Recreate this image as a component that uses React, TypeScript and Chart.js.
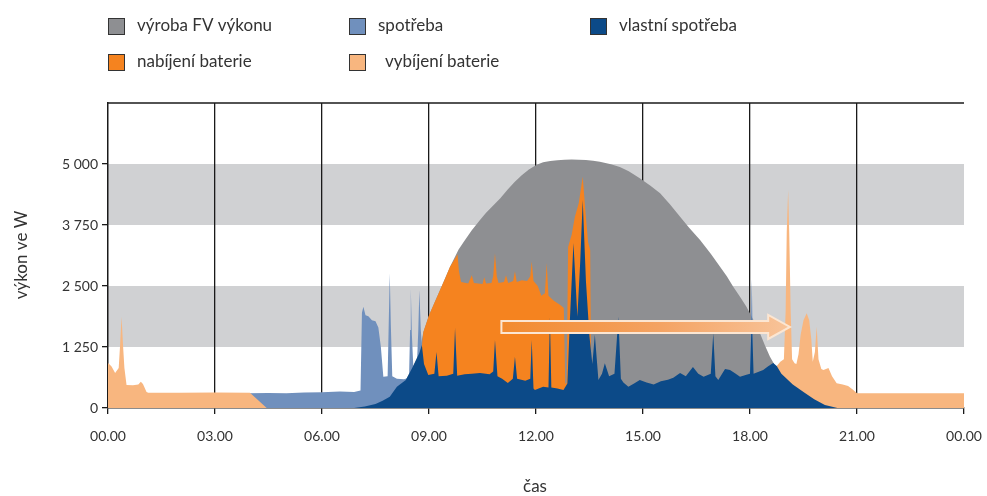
import React, { useEffect, useRef } from 'react';
import { Chart, registerables } from 'chart.js';

Chart.register(...registerables);

// ---------- data ----------
const xTickValues = [0, 3, 6, 9, 12, 15, 18, 21, 24];
const xTickLabels = ['00.00', '03.00', '06.00', '09.00', '12.00', '15.00', '18.00', '21.00', '00.00'];
const yTickValues = [0, 1250, 2500, 3750, 5000];
const yTickLabels = ['0', '1 250', '2 500', '3 750', '5 000'];
const yMax = 6250;
const bandRanges: [number, number][] = [[1250, 2500], [3750, 5000]];

const legendLabels = ['výroba FV výkonu', 'spotřeba', 'vlastní spotřeba', 'nabíjení baterie', 'vybíjení baterie'];
const xTitle = 'čas';
const yTitle = 'výkon ve W';

// [hour, watts]
const pvProduction: [number, number][] = [
  [6.9, 0], [7.5, 80], [7.9, 232], [8.1, 437], [8.35, 574], [8.55, 850], [8.73, 1127], [8.84, 1550],
  [9.0, 1900], [9.31, 2418], [9.59, 2895], [9.83, 3250], [10.0, 3430], [10.2, 3640], [10.43, 3852],
  [10.6, 4000], [10.8, 4150], [11.0, 4300], [11.2, 4470], [11.4, 4630], [11.6, 4770], [11.8, 4885],
  [12.02, 4985], [12.2, 5035], [12.4, 5060], [12.6, 5075], [12.8, 5085], [13.0, 5090], [13.2, 5088],
  [13.4, 5080], [13.6, 5065], [13.79, 5045], [14.1, 4995], [14.35, 4940], [14.6, 4850], [14.91, 4707],
  [15.2, 4560], [15.48, 4400], [15.76, 4170], [16.04, 3920], [16.3, 3690], [16.6, 3443], [16.9, 3160],
  [17.16, 2895], [17.35, 2700], [17.53, 2486], [17.72, 2280], [17.9, 2076], [18.1, 1800], [18.28, 1530],
  [18.42, 1280], [18.56, 1051], [18.7, 870], [18.84, 710], [19.0, 590], [19.2, 480], [19.5, 330],
  [19.8, 180], [20.1, 60], [20.45, 0],
];

const consumption: [number, number][] = [
  [3.9, 300], [4.5, 305], [5.0, 300], [5.5, 318], [6.0, 322], [6.5, 340], [6.9, 330], [7.08, 360],
  [7.12, 1950], [7.16, 2077], [7.22, 1900], [7.3, 1880], [7.4, 1800], [7.5, 1780], [7.58, 1650],
  [7.65, 1256], [7.72, 640], [7.84, 650], [7.87, 1700], [7.9, 2760], [7.93, 1700], [7.97, 650],
  [8.1, 600], [8.3, 590], [8.44, 620], [8.47, 1600], [8.49, 2452], [8.52, 1500], [8.56, 850],
  [8.66, 860], [8.7, 1600], [8.73, 2418], [8.77, 1600], [8.8, 1300], [8.95, 1000], [9.05, 0],
  [17.98, 0], [18.0, 700], [18.05, 2650], [18.09, 700], [18.12, 0],
];

const selfConsumption: [number, number][] = [
  [6.9, 0], [7.2, 30], [7.5, 80], [7.7, 150], [7.9, 232], [8.1, 437], [8.35, 574], [8.55, 850],
  [8.73, 1127], [8.8, 1291], [8.86, 900], [8.98, 676], [9.15, 700], [9.21, 1150], [9.27, 650],
  [9.5, 660], [9.68, 700], [9.73, 1639], [9.79, 660], [10.0, 690], [10.2, 700], [10.43, 717],
  [10.7, 690], [10.8, 750], [10.85, 1393], [10.92, 650], [11.05, 600], [11.21, 512], [11.35, 600],
  [11.41, 1051], [11.47, 600], [11.7, 560], [11.84, 600], [11.88, 1393], [11.93, 400], [11.97, 369],
  [12.2, 437], [12.35, 420], [12.39, 1872], [12.43, 420], [12.6, 400], [12.77, 369], [12.88, 500],
  [12.95, 1800], [13.05, 3380], [13.16, 1872], [13.24, 3000], [13.31, 4262], [13.4, 2600], [13.5, 1462],
  [13.58, 900], [13.65, 1500], [13.75, 574], [13.85, 700], [13.93, 915], [14.05, 650], [14.2, 700],
  [14.31, 1872], [14.38, 600], [14.45, 520], [14.59, 437], [14.75, 500], [14.91, 574], [15.1, 520],
  [15.3, 480], [15.5, 550], [15.7, 580], [15.85, 620], [16.04, 717], [16.2, 650], [16.4, 840],
  [16.55, 700], [16.7, 640], [16.9, 700], [16.97, 1530], [17.03, 650], [17.11, 574], [17.3, 800],
  [17.44, 779], [17.6, 700], [17.72, 640], [17.9, 680], [18.0, 700], [18.05, 1900], [18.1, 700],
  [18.37, 779], [18.5, 850], [18.65, 922], [18.75, 860], [18.88, 700], [19.2, 480], [19.5, 330],
  [19.8, 180], [20.1, 60], [20.45, 0],
];

const batteryCharging: [number, number][] = [
  [8.8, 1250], [8.84, 1550], [9.0, 1900], [9.15, 2150], [9.31, 2418], [9.45, 2650], [9.59, 2895],
  [9.72, 3050], [9.8, 3150], [9.84, 2800], [9.9, 2580], [10.1, 2550], [10.2, 2720], [10.26, 2560],
  [10.5, 2540], [10.55, 2680], [10.6, 2550], [10.75, 2560], [10.8, 2700], [10.85, 3170], [10.9, 2700],
  [10.95, 2560], [11.1, 2580], [11.16, 2720], [11.22, 2560], [11.36, 2600], [11.41, 2800], [11.46, 2580],
  [11.6, 2620], [11.75, 2600], [11.84, 2700], [11.88, 3000], [11.93, 2600], [12.05, 2500], [12.15, 2300],
  [12.25, 2350], [12.3, 2970], [12.35, 2300], [12.5, 2200], [12.7, 2100], [12.78, 2050], [12.82, 500],
  [12.86, 500], [12.9, 3300], [13.0, 3550], [13.09, 3920], [13.2, 4200], [13.31, 4740], [13.4, 3900],
  [13.46, 3400], [13.52, 3238], [13.55, 0],
];

const batteryDischarging: [number, number][] = [
  [0, 922], [0.1, 850], [0.2, 717], [0.3, 820], [0.34, 1300], [0.38, 1872], [0.42, 1300], [0.46, 820],
  [0.52, 471], [0.7, 465], [0.85, 480], [0.92, 540], [0.98, 490], [1.08, 330], [1.13, 314], [2.0, 314],
  [3.0, 316], [3.98, 314], [4.45, 0], [18.62, 0], [18.68, 800], [18.85, 950], [18.95, 1000],
  [19.0, 2000], [19.03, 3600], [19.07, 4467], [19.1, 3600], [19.14, 2000], [19.18, 1000], [19.25, 915],
  [19.3, 900], [19.36, 1100], [19.42, 1500], [19.5, 1800], [19.59, 1940], [19.66, 1800], [19.72, 1400],
  [19.76, 950], [19.82, 1150], [19.87, 1666], [19.92, 1000], [20.0, 800], [20.06, 779], [20.2, 820],
  [20.3, 650], [20.43, 506], [20.6, 480], [20.75, 450], [20.88, 380], [21.0, 300], [22.5, 300], [24, 300],
];

// arrow annotation (hours / watts)
const arrowStartHour = 11.03;
const arrowHeadHour = 18.51;
const arrowTipHour = 19.12;
const arrowLevel = 1660;

// ---------- styles ----------
const C_PV = '#8e8f92';
const C_CONS = '#7090bd';
const C_SELF = '#0c4a88';
const C_CHG = '#f5831f';
const C_DIS = '#f8b67f';
const C_BAND = '#d0d1d3';
const C_AXIS = '#1a1a1a';
const C_TEXT = '#333333';
const FONT = 'Lato, "Open Sans", sans-serif';

const toXY = (arr: [number, number][]) => arr.map(([x, y]) => ({ x, y }));

const bgPlugin = {
  id: 'bg',
  beforeDraw(chart: any) {
    const { ctx, chartArea, scales } = chart;
    ctx.save();
    ctx.fillStyle = '#ffffff';
    ctx.fillRect(0, 0, chart.width, chart.height);
    ctx.fillStyle = C_BAND;
    for (const [a, b] of bandRanges) {
      const y1 = scales.y.getPixelForValue(b);
      const y0 = scales.y.getPixelForValue(a);
      ctx.fillRect(chartArea.left, y1, chartArea.right - chartArea.left, y0 - y1);
    }
    ctx.restore();
  },
};

const overlayPlugin = {
  id: 'overlay',
  afterDraw(chart: any) {
    const { ctx, chartArea, scales } = chart;
    const xs = scales.x, ys = scales.y;
    ctx.save();
    // top border
    ctx.strokeStyle = C_AXIS;
    ctx.lineWidth = 1.5;
    ctx.beginPath();
    ctx.moveTo(chartArea.left, chartArea.top);
    ctx.lineTo(chartArea.right, chartArea.top);
    ctx.stroke();

    // arrow
    const x0 = xs.getPixelForValue(arrowStartHour);
    const x1 = xs.getPixelForValue(arrowHeadHour);
    const x2 = xs.getPixelForValue(arrowTipHour);
    const yc = ys.getPixelForValue(arrowLevel);
    const g = ctx.createLinearGradient(x0, 0, x2, 0);
    g.addColorStop(0, '#f28a2e');
    g.addColorStop(0.55, '#f4a363');
    g.addColorStop(1, '#f8c49a');
    ctx.beginPath();
    ctx.moveTo(x0, yc - 6);
    ctx.lineTo(x1, yc - 6);
    ctx.lineTo(x1, yc - 12);
    ctx.lineTo(x2, yc);
    ctx.lineTo(x1, yc + 12);
    ctx.lineTo(x1, yc + 6);
    ctx.lineTo(x0, yc + 6);
    ctx.closePath();
    ctx.fillStyle = g;
    ctx.fill();
    ctx.strokeStyle = '#fce6d2';
    ctx.lineWidth = 2;
    ctx.stroke();

    // legend
    const entries: [number, number, string, string][] = [
      [108, 26, C_PV, legendLabels[0]],
      [349, 26, C_CONS, legendLabels[1]],
      [590, 26, C_SELF, legendLabels[2]],
      [108, 62, C_CHG, legendLabels[3]],
      [349, 62, C_DIS, legendLabels[4]],
    ];
    ctx.font = '17px ' + FONT;
    ctx.textBaseline = 'middle';
    ctx.textAlign = 'left';
    entries.forEach(([x, y, col, label], i) => {
      ctx.fillStyle = col;
      ctx.fillRect(x, y - 8, 17, 17);
      ctx.strokeStyle = '#333';
      ctx.lineWidth = 1;
      ctx.strokeRect(x + 0.5, y - 7.5, 16, 16);
      ctx.fillStyle = C_TEXT;
      ctx.fillText(label, x + (i === 4 ? 36 : 29), y);
    });

    // axis titles
    ctx.font = '17px ' + FONT;
    ctx.textAlign = 'center';
    ctx.fillText(xTitle, 535, 487);
    ctx.translate(22, 255);
    ctx.rotate(-Math.PI / 2);
    ctx.fillText(yTitle, 0, 0);
    ctx.restore();
  },
};

export default function App() {
  const ref = useRef<HTMLCanvasElement | null>(null);
  useEffect(() => {
    document.body.style.margin = '0';
    if (!ref.current) return;
    const area = (label: string, data: [number, number][], color: string, order: number) => ({
      label,
      data: toXY(data),
      backgroundColor: color,
      borderColor: color,
      borderWidth: 0,
      pointRadius: 0,
      fill: 'origin',
      tension: 0,
      order,
    });
    const chart = new Chart(ref.current, {
      type: 'line',
      data: {
        datasets: [
          area(legendLabels[2], selfConsumption, C_SELF, 0),
          area(legendLabels[3], batteryCharging, C_CHG, 1),
          area(legendLabels[4], batteryDischarging, C_DIS, 2),
          area(legendLabels[1], consumption, C_CONS, 3),
          area(legendLabels[0], pvProduction, C_PV, 4),
        ] as any,
      },
      options: {
        animation: false,
        responsive: false,
        devicePixelRatio: 1,
        parsing: false as any,
        normalized: true,
        layout: { padding: { top: 103, right: 23, left: 0, bottom: 0 } },
        plugins: { legend: { display: false }, tooltip: { enabled: false } },
        scales: {
          x: {
            type: 'linear',
            min: 0,
            max: 24,
            afterFit: (s: any) => { s.height = 88; s.paddingLeft = 0; s.paddingRight = 0; },
            afterBuildTicks: (s: any) => { s.ticks = xTickValues.map((v) => ({ value: v })); },
            ticks: {
              callback: (v: any) => xTickLabels[xTickValues.indexOf(Number(v))] ?? '',
              color: C_TEXT,
              font: { family: FONT, size: 14 },
              padding: 14,
              maxRotation: 0,
              autoSkip: false,
            },
            grid: {
              color: (c: any) => (c.tick && (c.tick.value === 0 || c.tick.value === 24) ? 'rgba(0,0,0,0)' : C_AXIS),
              tickColor: C_AXIS,
              lineWidth: 1.3,
              tickLength: 6,
              drawOnChartArea: true,
            },
            border: { color: C_AXIS, width: 1.5 },
          },
          y: {
            type: 'linear',
            min: 0,
            max: yMax,
            afterFit: (s: any) => { s.width = 108; s.paddingTop = 0; s.paddingBottom = 0; },
            afterBuildTicks: (s: any) => { s.ticks = yTickValues.map((v) => ({ value: v })); },
            ticks: {
              callback: (v: any) => yTickLabels[yTickValues.indexOf(Number(v))] ?? '',
              color: C_TEXT,
              font: { family: FONT, size: 14 },
              padding: 4,
            },
            grid: { drawOnChartArea: false, tickColor: C_AXIS, tickLength: 6, lineWidth: 1.3 },
            border: { color: C_AXIS, width: 1.5 },
          },
        },
      } as any,
      plugins: [bgPlugin, overlayPlugin],
    });
    return () => chart.destroy();
  }, []);
  return (
    <div style={{ width: 987, height: 496 }}>
      <canvas ref={ref} width={987} height={496} style={{ display: 'block' }} />
    </div>
  );
}
